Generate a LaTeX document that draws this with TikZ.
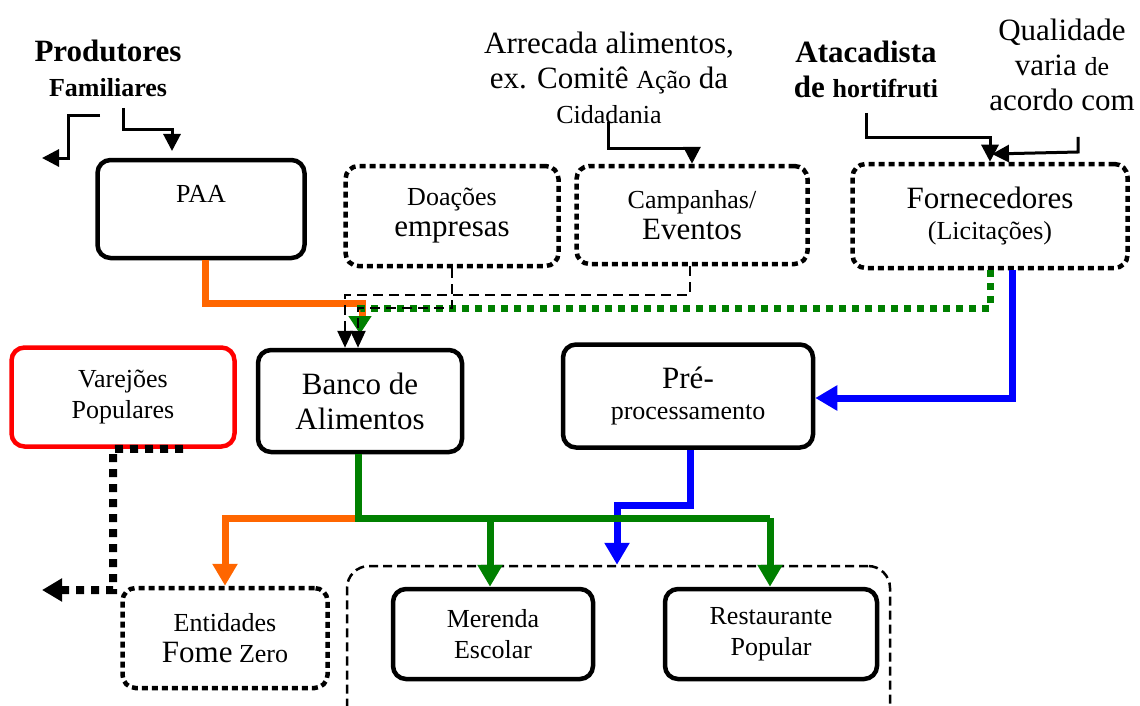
\documentclass[tikz,border=0pt]{standalone}
\usepackage{fontspec}
\setmainfont{Liberation Serif}
\usetikzlibrary{arrows.meta}
\definecolor{orng}{HTML}{FF6600}
\definecolor{grn}{HTML}{008000}
\definecolor{blu}{HTML}{0000FF}
\definecolor{rd}{HTML}{FF0000}
\newcommand{\fsS}{\fontsize{26}{31}\selectfont}
\newcommand{\fsL}{\fontsize{31}{35}\selectfont}
\begin{document}
\begin{tikzpicture}[x=1pt,y=-1pt,
  box/.style={draw, line width=4.5pt, rounded corners=13pt, align=center, inner sep=0pt, font=\fsS},
  dotbox/.style={box, dash pattern=on 6pt off 4pt},
  lbl/.style={align=center, inner sep=0pt, font=\fsL},
  blkarrow/.style={draw, line width=3pt, -{Triangle[length=17pt,width=17pt]}},
  colarrow/.style={draw, line width=7pt, -{Triangle[length=22pt,width=24pt]}},
  colline/.style={draw, line width=7pt},
  dashconn/.style={draw, line width=2.5pt, dash pattern=on 10pt off 6pt, -{Triangle[length=17pt,width=15pt]}},
]
\useasboundingbox (0,0) rectangle (1140,706);

% labels
\node[lbl, font=\bfseries\fsL] (prod) at (108,68) {Produtores\\{\fsS Familiares}};
\node[lbl] (arr) at (609,78) {Arrecada alimentos,\\ex. Comitê {\fsS Ação} da\\{\fsS Cidadania}};
\node[lbl, font=\bfseries\fsL] (atac) at (866,69) {Atacadista\\de {\fsS hortifruti}};
\node[lbl] (qual) at (1062,65) {Qualidade\\varia {\fsS de}\\acordo com};

% boxes
\node[box, minimum width=207pt, minimum height=98pt] (paa) at (201,209) {PAA\\[-10pt] \strut};
\node[dotbox, minimum width=213pt, minimum height=100pt] (don) at (452,216) {Doações\\{\fsL empresas}};
\node[dotbox, minimum width=231pt, minimum height=98pt] (cam) at (692,215) {Campanhas/\\{\fsL Eventos}};
\node[dotbox, minimum width=275pt, minimum height=104pt] (forn) at (990,216) {{\fsL Fornecedores}\\(Licitações)};
\node[box, draw=rd, minimum width=223pt, minimum height=99pt] (var) at (123,397) {Varejões\\Populares};
\node[box, minimum width=204pt, minimum height=102pt, font=\fsL] (banco) at (360,401) {Banco de\\Alimentos};
\node[box, minimum width=250pt, minimum height=103pt] (pre) at (688,396) {{\fsL Pré-}\\processamento};
\node[dotbox, minimum width=205pt, minimum height=100pt] (ent) at (225,638) {Entidades\\{\fsL Fome} Zero};
\node[draw, line width=2.5pt, dash pattern=on 9pt off 5pt, rounded corners=22pt, minimum width=543pt, minimum height=160pt] (grp) at (618.5,646) {};
\node[box, minimum width=200pt, minimum height=90pt] (mer) at (493,634) {Merenda\\Escolar};
\node[box, minimum width=212pt, minimum height=90pt] (rest) at (771,634) {Restaurante\\Popular};

% free-end coordinates
\coordinate (pl1) at (100,116);
\coordinate (pl2) at (42,158);
\coordinate (pr1) at (123,108);
\coordinate (ar1) at (608,122);
\coordinate (at1) at (866,113);
\coordinate (ql1) at (1078,137);
\coordinate (vout) at (42,590);

% top black arrows
\draw[blkarrow] (pl1) -- (68,116) -- (68,158) -- (pl2);
\draw[blkarrow] (pr1) -- (123,130) -- (172,130) -- (172,151);
\draw[blkarrow] (ar1) -- (608,148) -- (692,148) -- (cam.north -| 692,0);
\draw[blkarrow] (at1) -- (866,138) -- (990,138) -- (forn.north);
\draw[blkarrow] (ql1) -- (1078,152) -- (992,154);

% orange PAA -> Banco
\draw[colline, orng] (paa.south -| 205,0) -- (205,303) -- (362,303) -- (362,322);
% green dotted Fornecedores -> Banco
\draw[line width=7pt, grn, dash pattern=on 7pt off 6pt, -{Triangle[length=18pt,width=22pt]}]
  (forn.south -| 990,0) -- (990,308) -- (360,308) -- (360,334);
% black dashed Doacoes / Campanhas -> Banco
\draw[dashconn] (don.south -| 452,0) -- (452,308) -- (358,308) -- (banco.north -| 358,0);
\draw[dashconn] (cam.south -| 690,0) -- (690,295) -- (345,295) -- (banco.north -| 345,0);

% blue Fornecedores -> Pre
\draw[colarrow, blu] (forn.south -| 1012,0) -- (1012,398) -- (pre.east |- 0,398);
% blue Pre -> group
\draw[colarrow, blu] (pre.south -| 690,0) -- (690,505) -- (617,505) -- (grp.north -| 617,0);

% green Banco -> Merenda / Restaurante
\draw[colline, grn] (banco.south -| 358,0) -- (358,518) -- (770,518);
\draw[colarrow, grn] (490,518) -- (mer.north -| 490,0);
\draw[colarrow, grn] (770,518) -- (rest.north -| 770,0);
% orange Banco -> Entidades
\draw[colarrow, orng] (355,518) -- (225,518) -- (ent.north -| 225,0);

% Varejoes dotted
\draw[line width=8pt, dash pattern=on 8pt off 7pt, -{Triangle[length=20pt,width=22pt]}]
  (var.south -| 183,0) -- (113,449) -- (113,590) -- (vout);
\end{tikzpicture}
\end{document}
